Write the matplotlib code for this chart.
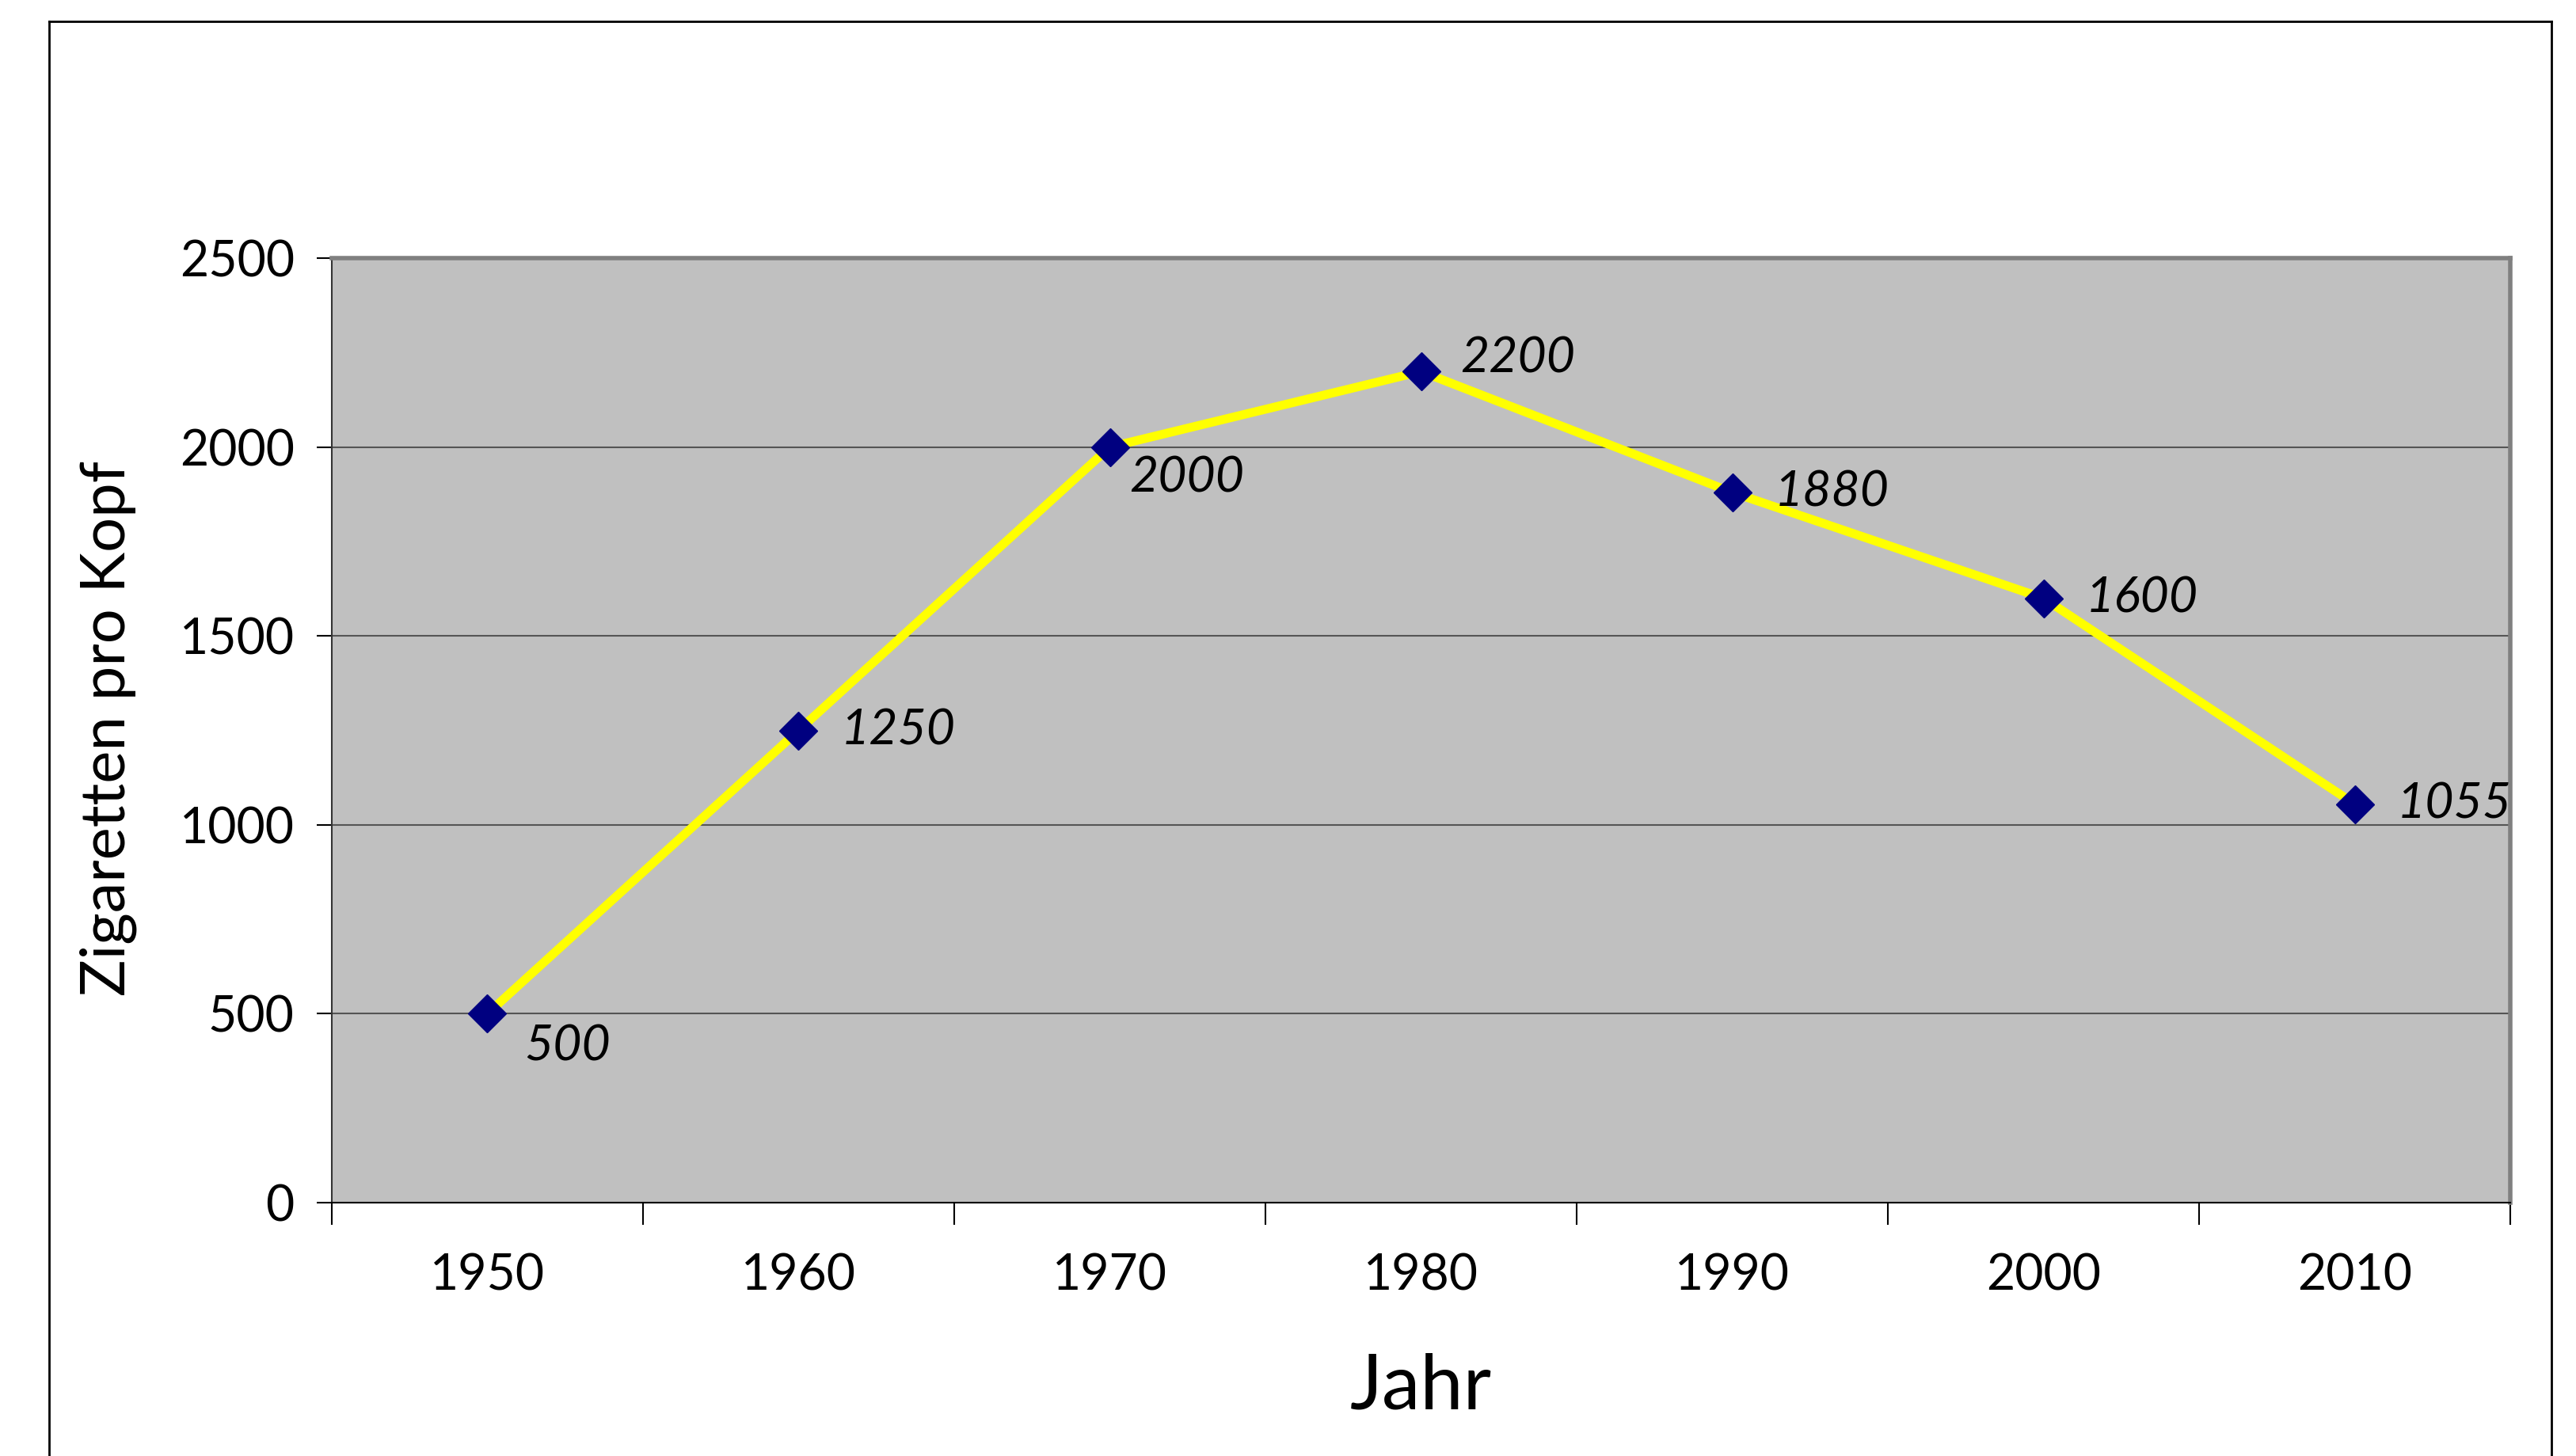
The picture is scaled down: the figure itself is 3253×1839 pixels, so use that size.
# Zigarettenkonsum pro Kopf, 1950-2010

import numpy as np
import matplotlib.pyplot as plt
from matplotlib.lines import Line2D

plt.rcParams['font.family'] = ['Lato', 'DejaVu Sans']

years = ['1950', '1960', '1970', '1980', '1990', '2000', '2010']
cigarettes = [500, 1250, 2000, 2200, 1880, 1600, 1055]
y_ticks = [0, 500, 1000, 1500, 2000, 2500]

# label offsets in points (dx, dy), roughly where Excel put them
label_offsets = [(34, -30), (38, 0), (18, -28), (36, 12), (38, 0), (38, 0), (38, 0)]

fig = plt.figure(figsize=(32.53, 18.39), dpi=100)
left, right, bottom, top = 0.1288, 0.9745, 0.174, 0.8227
ax = fig.add_axes([left, bottom, right - left, top - bottom])
ax.set_facecolor('#c0c0c0')

x = np.arange(len(years))
ax.plot(x, cigarettes, color='#ffff00', lw=8, zorder=3,
        marker='D', markersize=24, markerfacecolor='#000080', markeredgecolor='#000080')

for i, v in enumerate(cigarettes):
    dx, dy = label_offsets[i]
    ax.annotate(str(v), (x[i], v), xytext=(dx, dy), textcoords='offset points',
                ha='left', va='center', fontsize=45, style='italic', zorder=4)

ax.set_xlim(-0.5, len(years) - 0.5)
ax.set_ylim(0, 2500)
ax.set_yticks(y_ticks)
ax.set_yticklabels([str(t) for t in y_ticks])
ax.yaxis.grid(True, color='#555555', lw=1.5)
ax.set_axisbelow(True)

# category axis: ticks at boundaries, labels centred
ax.set_xticks(np.arange(len(years) + 1) - 0.5)
ax.set_xticklabels([])
ax.set_xticks(x, minor=True)
ax.set_xticklabels(years, minor=True)
ax.tick_params(axis='x', which='major', direction='out', length=20, width=1.5)
ax.tick_params(axis='x', which='minor', length=0, pad=46, labelsize=45)
ax.tick_params(axis='y', direction='out', length=14, width=1.5, pad=20, labelsize=45)

for s in ['top', 'right']:
    ax.spines[s].set_color('#808080')
    ax.spines[s].set_linewidth(4)
ax.spines['left'].set_color('#333333')
ax.spines['left'].set_linewidth(1.5)
ax.spines['bottom'].set_color('black')
ax.spines['bottom'].set_linewidth(1.5)

fig.text((left + right) / 2, 1 - 1752 / 1839, 'Jahr', fontsize=70, ha='center', va='center')
fig.text(137 / 3253, 0.5, 'Zigaretten pro Kopf', fontsize=56, rotation=90,
         ha='center', va='center')

# outer chart frame
l, r, t = 62 / 3253, 3222 / 3253, 1 - 27 / 1839
for xs, ys in [([l, l], [-0.05, t]), ([l, r], [t, t]), ([r, r], [t, -0.05])]:
    fig.add_artist(Line2D(xs, ys, color='black', lw=2, transform=fig.transFigure))

fig.savefig('out.png', dpi=100)
